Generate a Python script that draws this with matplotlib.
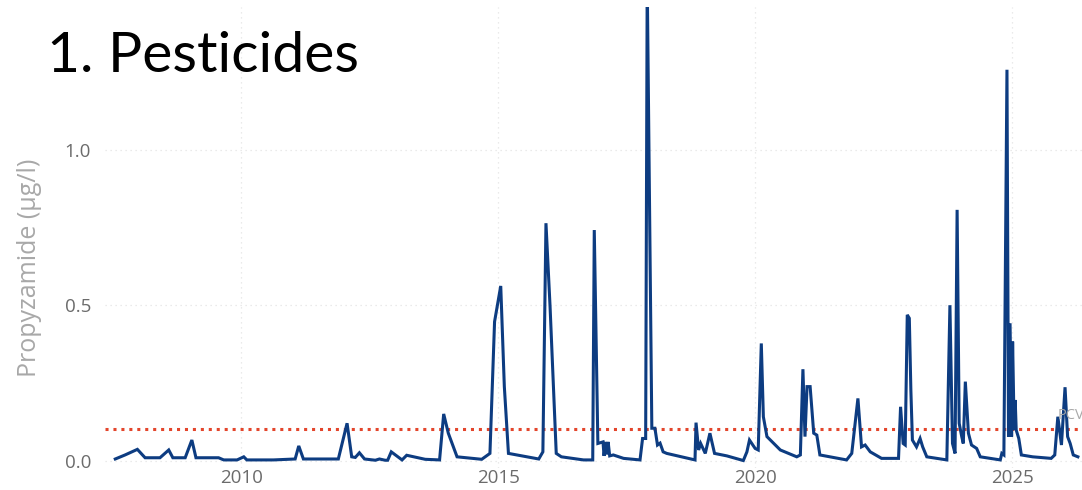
import matplotlib
matplotlib.use("Agg")
import matplotlib.pyplot as plt

# decimal year, propyzamide (ug/l)
years = [
    2007.55, 2007.74, 2007.98, 2008.13, 2008.42, 2008.59, 2008.67, 2008.91, 2009.04, 2009.12,
    2009.56, 2009.66, 2009.92, 2010.05, 2010.11, 2010.63, 2011.05, 2011.12, 2011.21, 2011.89,
    2012.06, 2012.15, 2012.22, 2012.30, 2012.40, 2012.61, 2012.69, 2012.80, 2012.85, 2012.92,
    2013.13, 2013.22, 2013.58, 2013.86, 2013.94, 2014.03, 2014.20, 2014.68, 2014.84, 2014.93,
    2015.05, 2015.12, 2015.20, 2015.79, 2015.87, 2015.93, 2016.01, 2016.13, 2016.23, 2016.66,
    2016.84, 2016.87, 2016.94, 2017.04, 2017.06, 2017.09, 2017.11, 2017.14, 2017.17, 2017.24,
    2017.44, 2017.76, 2017.81, 2017.87, 2017.90, 2017.99, 2018.05, 2018.10, 2018.15, 2018.21,
    2018.28, 2018.83, 2018.85, 2018.90, 2018.94, 2019.03, 2019.12, 2019.21, 2019.45, 2019.77,
    2019.84, 2019.89, 2020.00, 2020.06, 2020.12, 2020.16, 2020.23, 2020.49, 2020.81, 2020.88,
    2020.93, 2020.97, 2021.01, 2021.07, 2021.14, 2021.20, 2021.26, 2021.78, 2021.88, 2022.00,
    2022.07, 2022.14, 2022.24, 2022.46, 2022.79, 2022.83, 2022.88, 2022.92, 2022.96, 2023.00,
    2023.03, 2023.06, 2023.14, 2023.21, 2023.26, 2023.34, 2023.73, 2023.79, 2023.84, 2023.89,
    2023.93, 2023.97, 2024.02, 2024.05, 2024.09, 2024.15, 2024.21, 2024.31, 2024.38, 2024.77,
    2024.80, 2024.84, 2024.90, 2024.93, 2024.96, 2024.99, 2025.01, 2025.04, 2025.06, 2025.08,
    2025.13, 2025.18, 2025.40, 2025.76, 2025.83, 2025.89, 2025.96, 2026.03, 2026.08, 2026.13,
    2026.19, 2026.28,
]
values = [
    0.005, 0.018, 0.036, 0.009, 0.009, 0.034, 0.009, 0.009, 0.066, 0.009,
    0.009, 0.002, 0.002, 0.012, 0.002, 0.002, 0.005, 0.047, 0.005, 0.005,
    0.120, 0.012, 0.010, 0.025, 0.005, 0.001, 0.005, 0.001, 0.001, 0.028,
    0.002, 0.017, 0.004, 0.002, 0.150, 0.088, 0.012, 0.004, 0.023, 0.447,
    0.562, 0.238, 0.023, 0.005, 0.028, 0.764, 0.495, 0.023, 0.012, 0.002,
    0.002, 0.742, 0.055, 0.060, 0.015, 0.060, 0.020, 0.060, 0.015, 0.018,
    0.007, 0.002, 0.071, 0.071, 1.550, 0.104, 0.104, 0.050, 0.056, 0.028,
    0.023, 0.002, 0.122, 0.034, 0.055, 0.023, 0.088, 0.023, 0.015, 0.000,
    0.028, 0.066, 0.039, 0.034, 0.377, 0.141, 0.077, 0.034, 0.012, 0.018,
    0.294, 0.077, 0.238, 0.238, 0.088, 0.082, 0.018, 0.002, 0.023, 0.200,
    0.044, 0.050, 0.028, 0.007, 0.007, 0.173, 0.055, 0.050, 0.469, 0.458,
    0.227, 0.066, 0.044, 0.071, 0.044, 0.012, 0.002, 0.500, 0.055, 0.023,
    0.807, 0.120, 0.077, 0.055, 0.254, 0.088, 0.050, 0.039, 0.012, 0.002,
    0.023, 0.018, 1.258, 0.077, 0.442, 0.077, 0.383, 0.098, 0.195, 0.098,
    0.071, 0.018, 0.012, 0.007, 0.018, 0.141, 0.050, 0.236, 0.077, 0.055,
    0.018, 0.012,
]

PCV = 0.1
x_ticks = [2010, 2015, 2020, 2025]
y_ticks = [0.0, 0.5, 1.0]

fig = plt.figure(figsize=(10.82, 4.9), dpi=100)
# axes area measured in pixels: left 105, right 1082, top 7, bottom 468
ax = fig.add_axes([105 / 1082, (490 - 468) / 490, 977 / 1082, 461 / 490])

ax.plot(years, values, color="#0d3c81", linewidth=2.2, solid_joinstyle="miter", zorder=3)
ax.axhline(PCV, color="#e3452b", linestyle=(0, (1, 1.6)), linewidth=2.2, zorder=2)
ax.text(2025.88, PCV + 0.022, "PCV", color="#a8a8a8", fontsize=10.5, family="Open Sans",
        va="bottom", ha="left", clip_on=False)

ax.set_xlim(2007.35, 2026.36)
ax.set_ylim(-0.024, 1.46)
ax.set_xticks(x_ticks)
ax.set_yticks(y_ticks)
ax.set_yticklabels(["0.0", "0.5", "1.0"])
ax.grid(True, color="#e4e4e4", linestyle=(0, (1, 3)), linewidth=0.9)
ax.set_axisbelow(True)
for s in ax.spines.values():
    s.set_visible(False)
ax.tick_params(axis="y", length=0, labelsize=13.5, labelcolor="#6b6b6b", pad=10)
ax.tick_params(axis="x", length=0, labelsize=13.5, labelcolor="#6b6b6b", pad=1)
for lab in ax.get_xticklabels() + ax.get_yticklabels():
    lab.set_family("Open Sans")
ax.set_ylabel("Propyzamide (µg/l)", fontsize=18, color="#a8a8a8", family="Open Sans")
ax.yaxis.set_label_coords(-0.064, 0.434)

fig.text(47 / 1082, 1 - 72 / 490, "1. Pesticides", fontsize=41, family="Lato", color="black",
         ha="left", va="baseline")

fig.savefig("out.png", dpi=100)
